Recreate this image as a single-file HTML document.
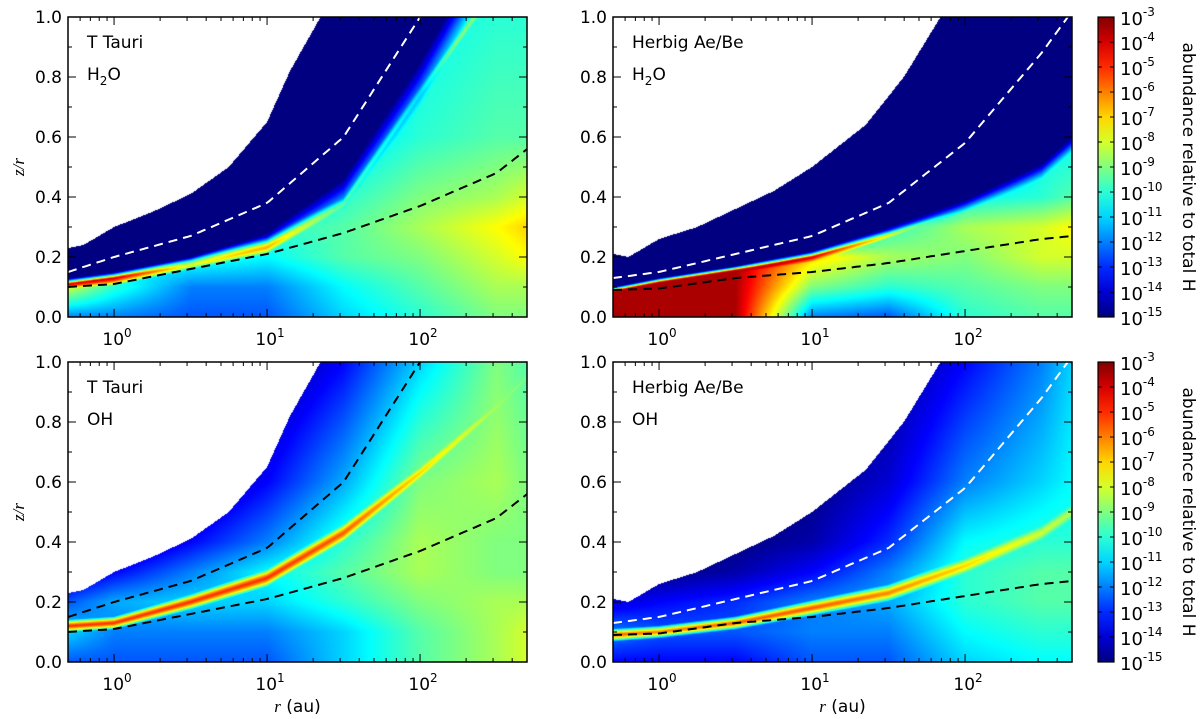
<!DOCTYPE html>
<html><head><meta charset="utf-8"><style>
body{margin:0;background:#fff;width:1200px;height:719px;overflow:hidden;position:relative;font-family:"DejaVu Sans","Liberation Sans",sans-serif}
canvas{position:absolute}
svg{position:absolute;left:0;top:0;font-family:"DejaVu Sans","Liberation Sans",sans-serif}
</style></head><body>
<div id="root"></div>
<script>
const lrCols=[-0.3,0,0.5,1,1.5,2,2.5,2.7];
const edgeCols=[-0.3,-0.2,0,0.25,0.5,0.75,1,1.15,1.35,1.6,1.9,2.7];
const zRows=[0,0.1,0.2,0.3,0.4,0.6,1.0];
const ttEdge=[0.23,0.24,0.3,0.35,0.41,0.5,0.65,0.82,1.0,1.3,1.6,2];
const hbEdge=[0.21,0.2,0.26,0.3,0.36,0.42,0.5,0.56,0.64,0.8,1.05,1.5];
// Panel TL: T Tauri H2O
const tlDark=[0.13,0.15,0.2,0.28,0.46,0.85,1.3,1.4];
const tlDarkW=[0.02,0.02,0.03,0.05,0.1,0.15,0.15,0.15];
const tlRidgeZ=[0.11,0.13,0.19,0.24,0.38,0.75,1.1,1.2];
const tlRidgePeak=[-4,-4,-4.5,-5.5,-8.2,-8.8,-9,-9];
const tlRidgeW=[0.02,0.025,0.03,0.035,0.04,0.05,0.06,0.06];
const tlBg=[[-12,-8,-13,-15,-15,-15,-15],[-12,-10,-11,-15,-15,-15,-15],[-12.5,-12,-10,-12,-15,-15,-15],[-12.5,-12,-10.5,-10,-12,-15,-15],[-11,-10.5,-9.5,-9.5,-10,-11,-13],[-10,-9.5,-9,-8.5,-9,-10,-10.5],[-9,-8.5,-8,-7.5,-8.5,-9.5,-10],[-9,-8.5,-7.5,-7,-8,-9.5,-10]];
const tlWhite=[0.15,0.2,0.27,0.38,0.6,1.0,1.3,1.4];
const tlBlack=[0.1,0.11,0.16,0.21,0.28,0.37,0.48,0.56];
// Panel TR: Herbig H2O
const trDark=[0.1,0.13,0.17,0.22,0.3,0.39,0.51,0.6];
const trDarkW=[0.015,0.015,0.015,0.02,0.03,0.04,0.05,0.05];
const trRidgeZ=[0.08,0.11,0.15,0.2,0.275,0.36,0.47,0.56];
const trRidgePeak=[-3.5,-3.5,-3.5,-4,-7,-10,-10.5,-10.5];
const trRidgeW=[0.025,0.025,0.025,0.025,0.025,0.025,0.025,0.025];
const trBg=[[-3.5,-3.5,-3.5,-15,-15,-15,-15],[-3.5,-3.5,-3.5,-15,-15,-15,-15],[-3.5,-3.5,-3.5,-15,-15,-15,-15],[-12,-9,-7,-15,-15,-15,-15],[-12.5,-10,-8.5,-10,-15,-15,-15],[-10,-9.5,-9,-8.5,-10.5,-15,-15],[-9.5,-9,-8,-8,-10,-10.5,-15],[-9.5,-9,-8,-7.5,-9.5,-10.5,-15]];
const trWhite=[0.13,0.15,0.21,0.27,0.38,0.58,0.88,1.02];
const trBlack=[0.09,0.095,0.13,0.15,0.18,0.22,0.26,0.27];
// Panel BL: T Tauri OH
const blDark=[2,2,2,2,2,2,2,2];
const blDarkW=[0.1,0.1,0.1,0.1,0.1,0.1,0.1,0.1];
const blRidgeZ=[0.12,0.13,0.2,0.28,0.43,0.63,0.85,0.95];
const blRidgePeak=[-5,-5,-5,-5,-5.5,-7,-8.5,-9];
const blRidgeW=[0.02,0.02,0.025,0.03,0.035,0.04,0.05,0.05];
const blBg=[[-12.5,-11,-12.5,-14.5,-15,-15,-15],[-12.5,-12,-11.5,-13.5,-15,-15,-15],[-12.5,-12,-11,-12,-13.5,-15,-15],[-12.5,-12,-11,-10.5,-12,-13.5,-15],[-11,-11,-10,-9.5,-10,-11.5,-13.5],[-9.5,-9.5,-9,-8.5,-8.5,-9,-11],[-8.5,-8.5,-8.5,-9,-9,-8.5,-9],[-8,-8,-8.5,-9,-9,-9,-9.5]];
const blUpper=[0.15,0.2,0.27,0.38,0.6,1.0,1.3,1.4];
const blLower=tlBlack;
// Panel BR: Herbig OH
const brDark=[2,2,2,2,2,2,2,2];
const brDarkW=[0.1,0.1,0.1,0.1,0.1,0.1,0.1,0.1];
const brRidgeZ=[0.09,0.1,0.13,0.18,0.23,0.32,0.43,0.5];
const brRidgePeak=[-5.5,-6,-5.5,-5.5,-6,-7,-8,-8.5];
const brRidgeW=[0.02,0.02,0.02,0.025,0.03,0.04,0.05,0.06];
const brBg=[[-13.5,-12,-14,-15,-15,-15,-15],[-13.5,-12.5,-13.5,-15,-15,-15,-15],[-13.5,-12.5,-13,-14.5,-15,-15,-15],[-12.5,-12,-12,-13.5,-14.5,-15,-15],[-12.5,-12,-11.5,-12,-13,-14,-15],[-11,-10.5,-10,-10,-10.5,-12,-13.5],[-10.5,-10,-9.5,-9.5,-10,-11,-12],[-10.5,-10,-9.5,-9.5,-10,-10.5,-11]];
const brWhite=[0.13,0.15,0.21,0.27,0.38,0.58,0.88,1.02];
const brBlack=trBlack;
const cbTicks=[-3,-4,-5,-6,-7,-8,-9,-10,-11,-12,-13,-14,-15];

const PW=459,PH=300,LRMIN=Math.log10(0.5),LRMAX=Math.log10(500);
const H2O='H<tspan dy="5" font-size="12">2</tspan><tspan dy="-5">O</tspan>';
const panels=[
 {name:'ttauri-h2o',x:68,y:17,t1:'T Tauri',t2:H2O,edge:ttEdge,dark:tlDark,dw:tlDarkW,rz:tlRidgeZ,rp:tlRidgePeak,rw:tlRidgeW,bg:tlBg,lines:[[tlWhite,'#fff'],[tlBlack,'#000']]},
 {name:'herbig-h2o',x:613,y:17,t1:'Herbig Ae/Be',t2:H2O,edge:hbEdge,dark:trDark,dw:trDarkW,rz:trRidgeZ,rp:trRidgePeak,rw:trRidgeW,bg:trBg,lines:[[trWhite,'#fff'],[trBlack,'#000']]},
 {name:'ttauri-oh',x:68,y:362,t1:'T Tauri',t2:'OH',edge:ttEdge,dark:blDark,dw:blDarkW,rz:blRidgeZ,rp:blRidgePeak,rw:blRidgeW,bg:blBg,lines:[[blUpper,'#000'],[blLower,'#000']]},
 {name:'herbig-oh',x:613,y:362,t1:'Herbig Ae/Be',t2:'OH',edge:hbEdge,dark:brDark,dw:brDarkW,rz:brRidgeZ,rp:brRidgePeak,rw:brRidgeW,bg:brBg,lines:[[brWhite,'#fff'],[brBlack,'#000']]}
];
function interp(xs,ys,x){if(x<=xs[0])return ys[0];for(let i=1;i<xs.length;i++){if(x<=xs[i]){const t=(x-xs[i-1])/(xs[i]-xs[i-1]);return ys[i-1]+t*(ys[i]-ys[i-1]);}}return ys[ys.length-1];}
function cl(v){return Math.max(0,Math.min(1,v));}
function jet(v){const t=cl((v+15)/12);return [cl(1.5-Math.abs(4*t-3))*255,cl(1.5-Math.abs(4*t-2))*255,cl(1.5-Math.abs(4*t-1))*255];}
const xS=lr=>(lr-LRMIN)/(LRMAX-LRMIN)*PW;
const yS=z=>PH-z*PH;
const root=document.getElementById('root');
const NS='http://www.w3.org/2000/svg';
const svg=document.createElementNS(NS,'svg');svg.setAttribute('width',1200);svg.setAttribute('height',719);
let s='';
panels.forEach((p,pi)=>{
 const c=document.createElement('canvas');c.width=PW;c.height=PH;c.style.left=p.x+'px';c.style.top=p.y+'px';
 
 
 root.appendChild(c);
 const ctx=c.getContext('2d');const img=ctx.createImageData(PW,PH);
 for(let i=0;i<PW;i++){
  const lr=LRMIN+(i+0.5)/PW*(LRMAX-LRMIN);
  const edge=interp(edgeCols,p.edge,lr),dark=interp(lrCols,p.dark,lr),dw=interp(lrCols,p.dw,lr),rz=interp(lrCols,p.rz,lr),rp=interp(lrCols,p.rp,lr),rw=interp(lrCols,p.rw,lr);
  const col=zRows.map((_,k)=>interp(lrCols,p.bg.map(r=>r[k]),lr));
  for(let j=0;j<PH;j++){
   const z=(PH-j-0.5)/PH;const o=(j*PW+i)*4;
   if(z>edge){img.data[o]=255;img.data[o+1]=255;img.data[o+2]=255;img.data[o+3]=255;continue;}
   let v=interp(zRows,col,z);
   const r=rp-6*Math.pow(Math.abs(z-rz)/rw,1.4);if(r>v)v=r;
   if(z>dark-dw){const t=cl((z-dark+dw)/dw);v=v*(1-t)+(-15)*t;}
   const cc=jet(v);img.data[o]=cc[0];img.data[o+1]=cc[1];img.data[o+2]=cc[2];img.data[o+3]=255;
  }
 }
 ctx.putImageData(img,0,0);
 s+=`<g transform="translate(${p.x},${p.y})">`;
 s+=`<clipPath id="cp${pi}"><rect width="${PW}" height="${PH}"/></clipPath>`;
 p.lines.forEach((L,li)=>{
  let d='';for(let i=0;i<=PW;i+=3){const lr=LRMIN+i/PW*(LRMAX-LRMIN);d+=(i?'L':'M')+xS(lr).toFixed(1)+','+yS(interp(lrCols,L[0],lr)).toFixed(1);}
  s+=`<path clip-path="url(#cp${pi})" d="${d}" fill="none" stroke="${L[1]}" stroke-width="2" stroke-dasharray="9,6"/>`;
 });
 for(let e=-1;e<=2;e++)for(let m=1;m<10;m++){const lr=e+Math.log10(m);if(lr<LRMIN||lr>LRMAX)continue;const x=xS(lr),L=m==1?8:4;
  s+=`<line x1="${x}" x2="${x}" y1="${PH}" y2="${PH-L}" stroke="#000"/><line x1="${x}" x2="${x}" y1="0" y2="${L}" stroke="#000"/>`;}
 for(let k=0;k<=10;k++){const y=yS(k/10),L=k%2?4:8;s+=`<line x1="0" x2="${L}" y1="${y}" y2="${y}" stroke="#000"/><line x1="${PW}" x2="${PW-L}" y1="${y}" y2="${y}" stroke="#000"/>`;}
 s+=`<rect width="${PW}" height="${PH}" fill="none" stroke="#000" stroke-width="1.5"/>`;
 for(let k=0;k<=5;k++){s+=`<text x="-6" y="${yS(k/5)+6}" text-anchor="end" font-size="17">${(k/5).toFixed(1)}</text>`;}
 [0,1,2].forEach(e=>{s+=`<text x="${xS(e)+3}" y="${PH+28}" text-anchor="middle" font-size="17">10<tspan dy="-8" font-size="12">${e}</tspan></text>`;});
 s+=`<text x="19" y="31" font-size="17">${p.t1}</text><text x="19" y="63" font-size="17">${p.t2}</text>`;
 if(p.x<100)s+=`<text transform="translate(-44,${PH/2}) rotate(-90)" text-anchor="middle" font-size="17" font-family="Liberation Serif" font-style="italic">z/r</text>`;
 if(p.y>100)s+=`<text x="${PW/2}" y="${PH+50}" text-anchor="middle" font-size="17"><tspan font-family="Liberation Serif" font-style="italic">r</tspan> (au)</text>`;
 s+='</g>';
});
[17,362].forEach((cy,ci)=>{
 s+=`<defs><linearGradient id="cbg${ci}" x1="0" y1="1" x2="0" y2="0">`;
 for(let k=0;k<=12;k++){const c=jet(-15+k);s+=`<stop offset="${k/12}" stop-color="rgb(${c.map(Math.round)})"/>`;}
 s+=`</linearGradient></defs><g><rect x="1098" y="${cy}" width="16" height="300" fill="url(#cbg${ci})" stroke="#000" stroke-width="1.2"/>`;
 cbTicks.forEach(v=>{const y=cy+(-3-v)/12*300;s+=`<line x1="1098" x2="1102" y1="${y}" y2="${y}" stroke="#000"/><line x1="1114" x2="1110" y1="${y}" y2="${y}" stroke="#000"/><text x="1120" y="${y+8}" font-size="18">10<tspan dy="-9" font-size="12">${v}</tspan></text>`;});
 s+=`<text transform="translate(1183,${cy+150}) rotate(90)" text-anchor="middle" font-size="17">abundance relative to total H</text></g>`;
});
svg.innerHTML=s;
root.appendChild(svg);
</script>
</body></html>
